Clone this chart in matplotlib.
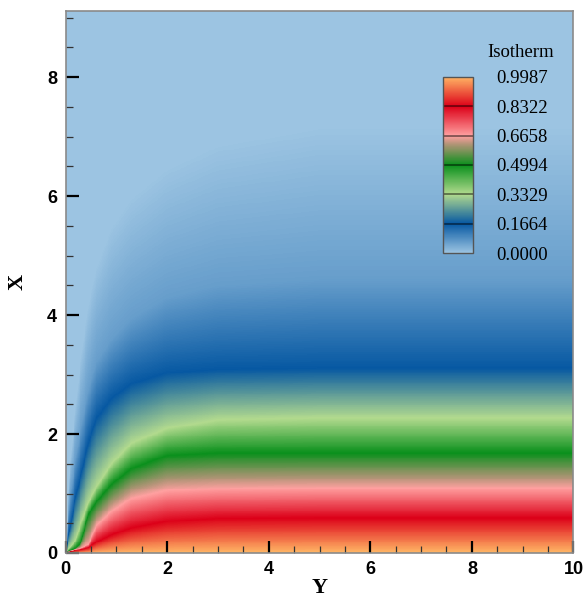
import matplotlib
matplotlib.use('Agg')
import matplotlib.pyplot as plt
import numpy as np
from matplotlib.colors import LinearSegmentedColormap, Normalize
from matplotlib.ticker import MultipleLocator

# isotherm levels shown in the legend
levels = [0.0000, 0.1664, 0.3329, 0.4994, 0.6658, 0.8322, 0.9987]

# Y stations where the isotherm heights were taken
y_st = [0.0, 0.1, 0.2, 0.3, 0.45, 0.6, 0.9, 1.3, 2.0, 3.0, 5.0, 10.0]

# height X of each isotherm along the stations
x_1000 = [0.0, 0.001, 0.002, 0.003, 0.004, 0.005, 0.006, 0.007, 0.008, 0.009, 0.010, 0.010]
x_0832 = [0.002, 0.03, 0.05, 0.06, 0.09, 0.18, 0.30, 0.42, 0.53, 0.58, 0.59, 0.59]
x_0666 = [0.004, 0.04, 0.06, 0.08, 0.14, 0.45, 0.70, 0.92, 1.05, 1.08, 1.09, 1.09]
x_0499 = [0.006, 0.05, 0.08, 0.17, 0.65, 0.85, 1.15, 1.42, 1.64, 1.68, 1.68, 1.68]
x_0333 = [0.008, 0.10, 0.22, 0.50, 0.85, 1.10, 1.50, 1.85, 2.10, 2.24, 2.27, 2.27]
x_0166 = [0.010, 0.45, 0.95, 1.30, 1.85, 2.25, 2.60, 2.85, 3.03, 3.09, 3.11, 3.11]
x_0060 = [0.012, 1.00, 1.60, 2.10, 2.75, 3.20, 3.60, 3.95, 4.30, 4.50, 4.60, 4.60]
x_0000 = [0.014, 1.60, 2.50, 3.30, 4.20, 4.80, 5.50, 6.00, 6.50, 6.90, 7.20, 7.20]

iso_vals = [1.0, 0.8322, 0.6658, 0.4994, 0.3329, 0.1664, 0.06, 0.0]
iso_x = [x_1000, x_0832, x_0666, x_0499, x_0333, x_0166, x_0060, x_0000]

ny, nx = 600, 600
Yg = np.linspace(0, 10, nx)
Xg = np.linspace(0, 9.2, ny)
theta = np.zeros((ny, nx))
# heights of every isotherm on the fine Y grid, then fill each column
hts = np.array([np.interp(Yg, y_st, h) for h in iso_x])
for j in range(nx):
    theta[:, j] = np.interp(Xg, hts[:, j], iso_vals)

cmap = LinearSegmentedColormap.from_list('iso', [
    (0.0, '#9cc4e2'),
    (1/6, '#0658a2'),
    (2/6, '#b2da8e'),
    (3/6, '#0a901c'),
    (0.62, '#b49478'),
    (4/6, '#ffa0a0'),
    (5/6, '#dc0018'),
    (1.0, '#ffb464'),
], N=512)
norm = Normalize(vmin=0, vmax=0.9987)

fig = plt.figure(figsize=(5.84, 6.02), dpi=100)
ax = fig.add_axes([0.1122, 0.0814, 0.8698, 0.9003])
ax.pcolormesh(Yg, Xg, theta, cmap=cmap, norm=norm, shading='auto', rasterized=True)
ax.set_xlim(0, 10)
ax.set_ylim(0, 9.11)

ax.xaxis.set_major_locator(MultipleLocator(2))
ax.xaxis.set_minor_locator(MultipleLocator(0.5))
ax.yaxis.set_major_locator(MultipleLocator(2))
ax.yaxis.set_minor_locator(MultipleLocator(0.5))
ax.tick_params(which='both', direction='in', top=False, right=False)
ax.tick_params(which='major', length=9, width=1.6, color='black', pad=6)
ax.tick_params(which='minor', length=5, width=0.9, color='#333333')
for lab in ax.get_xticklabels() + ax.get_yticklabels():
    lab.set_family('Liberation Sans')
    lab.set_fontsize(13)
    lab.set_fontweight('bold')
for s in ax.spines.values():
    s.set_color('#8a8a8a')
    s.set_linewidth(1.2)

ax.set_xlabel('Y', family='Liberation Serif', fontweight='bold', fontsize=16, labelpad=0)
ax.set_ylabel('X', family='Liberation Serif', fontweight='bold', fontsize=16, labelpad=14)

# legend bar
cax = fig.add_axes([0.7586, 0.5797, 0.0514, 0.2924])
sm = plt.cm.ScalarMappable(cmap=cmap, norm=norm)
cb = fig.colorbar(sm, cax=cax, ticks=levels)
cb.ax.set_yticklabels(['%.4f' % v for v in levels], family='Liberation Serif', fontsize=13.5)
cb.ax.tick_params(length=0, pad=17)
cb.outline.set_edgecolor('#555555')
cb.outline.set_linewidth(1.0)
for v in levels[1:-1]:
    cax.axhline(v, color='black', alpha=0.45, lw=1.4)
fig.text(0.948, 0.912, 'Isotherm', family='Liberation Serif', fontsize=13.5, ha='right', va='center')

fig.savefig('out.png', dpi=100)
